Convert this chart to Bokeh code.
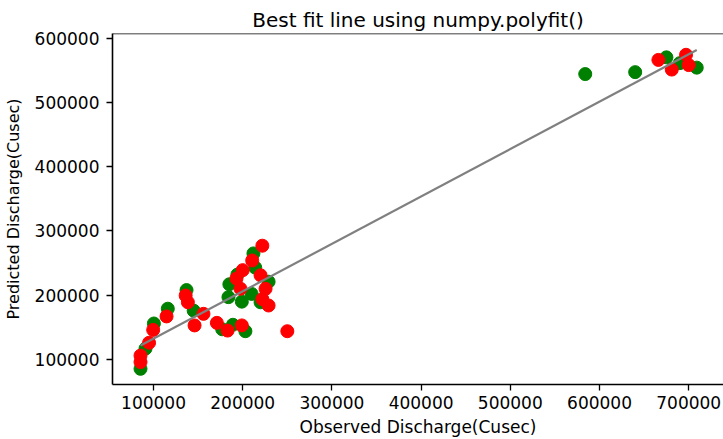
import numpy as np
from bokeh.plotting import figure
from bokeh.models import Range1d, Span, FixedTicker, Title, NumeralTickFormatter
from bokeh.embed import file_html
from bokeh.resources import INLINE

# ---- data ----
observed_green = [85400, 91000, 100400, 116000, 137000, 145000, 177000, 189000,
                  203000, 185000, 184000, 194000, 199000, 210000, 212000, 214000,
                  220000, 229000, 584000, 640000, 675000, 690000, 709000]
predicted_green = [85500, 117000, 156000, 179000, 208000, 176000, 147000, 154000,
                   144000, 217000, 197000, 232000, 190000, 202000, 265000, 243000,
                   189000, 221000, 544000, 547000, 570000, 561000, 554000]

observed_red = [85400, 85400, 95000, 99600, 114600, 136000, 138500, 146000,
                156000, 171000, 183000, 199000, 193000, 200000, 197500, 210600,
                222000, 220000, 225600, 222000, 229000, 250000,
                666000, 681000, 697000, 700000]
predicted_red = [106000, 96000, 126000, 146000, 167000, 199500, 189000, 153000,
                 171000, 157000, 145000, 153000, 226000, 239000, 210000, 254000,
                 277000, 231000, 210000, 194000, 184000, 144000,
                 566000, 551000, 574000, 558000]

# best-fit line coefficients (numpy.polyfit, degree 1)
fit_slope = 0.737
fit_intercept = 58800

x_ticks = [100000, 200000, 300000, 400000, 500000, 600000, 700000]
y_ticks = [100000, 200000, 300000, 400000, 500000, 600000]

title_text = "Best fit line using numpy.polyfit()"
x_label = "Observed Discharge(Cusec)"
y_label = "Predicted Discharge(Cusec)"

FONT = "DejaVu Sans"

p = figure(width=723, height=439, output_backend="svg", toolbar_location=None,
           x_range=Range1d(54000, 739000), y_range=Range1d(61100, 607100),
           min_border_left=112, min_border_right=0, min_border_top=33,
           min_border_bottom=55)
p.title = None
p.add_layout(Title(text=title_text, align="center", text_font=FONT,
                   text_font_size="20px", text_font_style="normal",
                   text_color="black", standoff=4), "above")

p.outline_line_color = None
p.xgrid.grid_line_color = None
p.ygrid.grid_line_color = None
p.background_fill_color = "white"
p.border_fill_color = "white"

for ax, ticks in ((p.xaxis, x_ticks), (p.yaxis, y_ticks)):
    ax.ticker = FixedTicker(ticks=ticks)
    ax.formatter = NumeralTickFormatter(format="0")
    ax.minor_tick_line_color = None
    ax.major_tick_in = 0
    ax.major_tick_out = 6
    ax.major_tick_line_color = "black"
    ax.major_tick_line_width = 1.3
    ax.axis_line_color = "black"
    ax.axis_line_width = 1.6
    ax.major_label_text_font = FONT
    ax.major_label_text_font_size = "17px"
    ax.major_label_text_color = "black"
    ax.axis_label_text_font = FONT
    ax.axis_label_text_font_style = "normal"
    ax.axis_label_text_color = "black"
p.xaxis.major_label_standoff = 5
p.yaxis.major_label_standoff = 7
p.xaxis.major_label_orientation = "horizontal"
p.yaxis.major_label_orientation = "horizontal"
p.xaxis.axis_label = x_label
p.xaxis.axis_label_text_font_size = "17px"
p.xaxis.axis_label_standoff = 5
p.yaxis.axis_label = y_label
p.yaxis.axis_label_text_font_size = "16px"
p.yaxis.axis_label_standoff = 9

# top spine
p.add_layout(Span(location=607100, dimension="width", line_color="black",
                  line_width=1.6))

p.scatter(observed_green, predicted_green, size=13, color="#008000")
p.scatter(observed_red, predicted_red, size=13, color="#ff0000")

xs = np.array([min(observed_green + observed_red), max(observed_green + observed_red)])
p.line(xs, fit_slope * xs + fit_intercept, line_color="#808080", line_width=2.2)

open("out.html", "w").write(file_html(p, INLINE))
